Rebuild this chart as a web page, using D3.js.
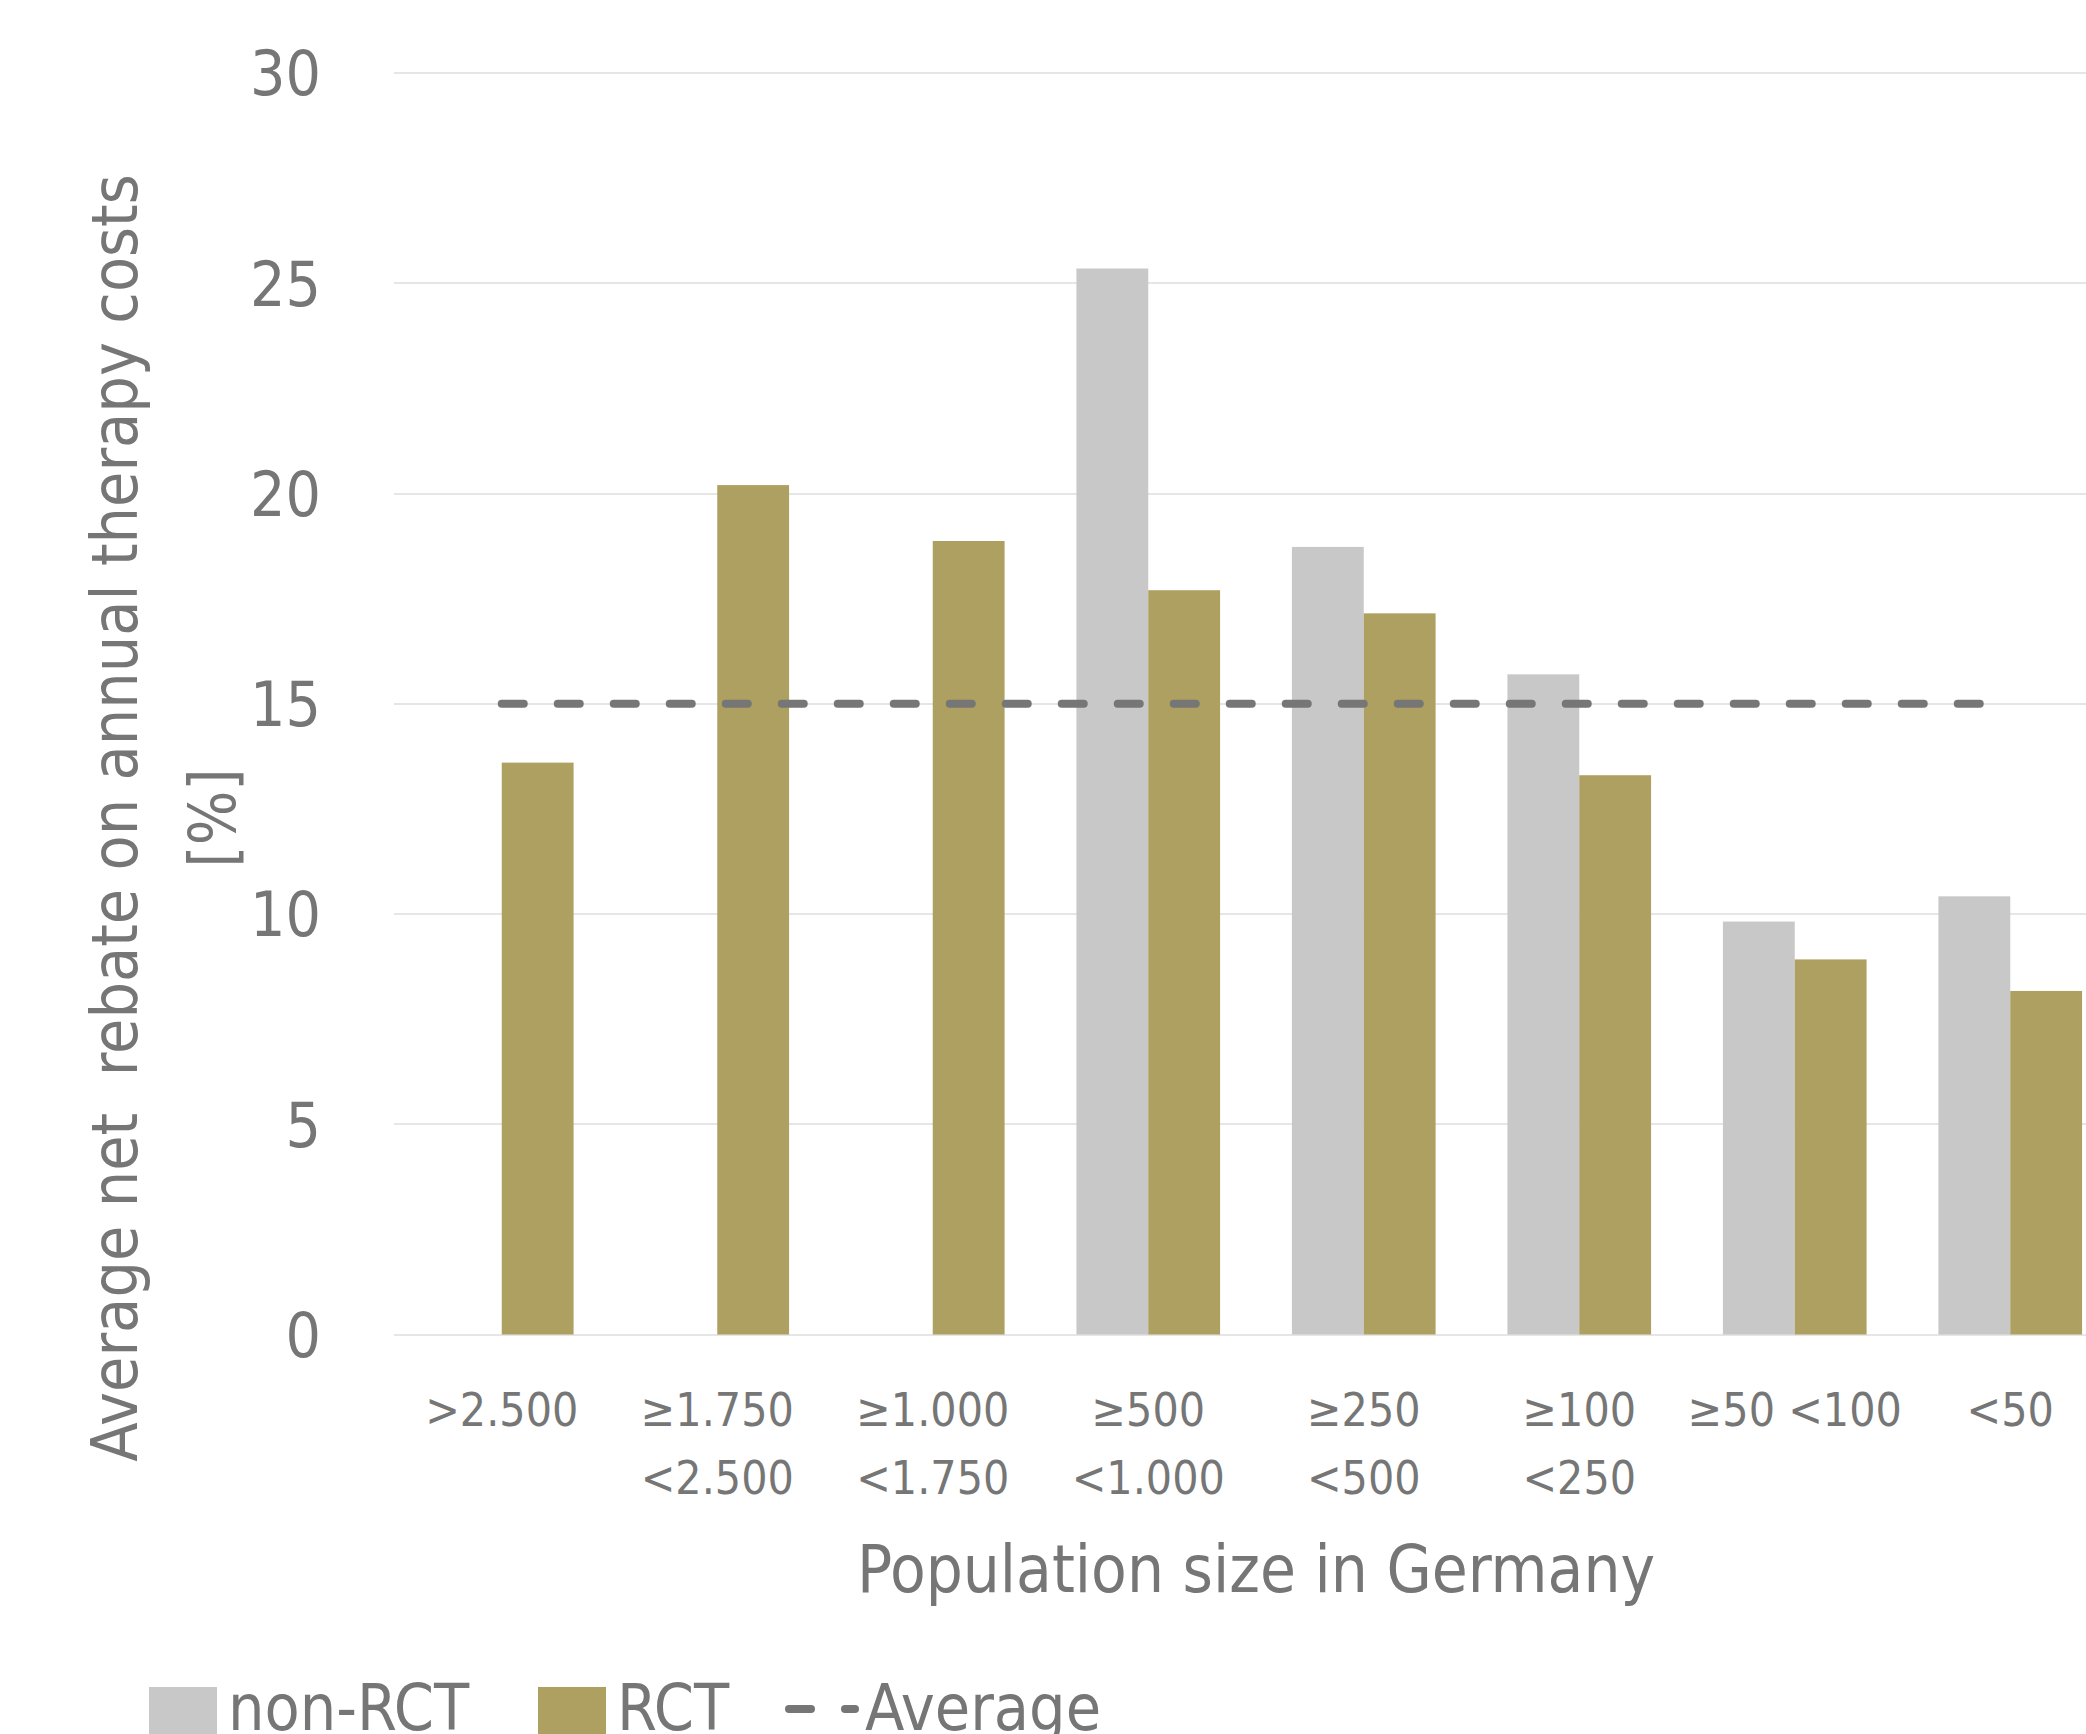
<!DOCTYPE html>
<html>
	<head>
		<title>Net rebate by population size</title>
		<meta charset='UTF-8' />
		<style>
			body {
				margin: 0;
				background: #ffffff;
			}
			svg {
				display: block;
				overflow: hidden;
			}
			.grid line {
				stroke: #e6e6e6;
				stroke-width: 2px;
				shape-rendering: crispEdges;
			}
			.tick-label, .label {
				font-family: 'DejaVu Sans Condensed', 'DejaVu Sans', sans-serif;
				font-stretch: condensed;
				fill: #767676;
				white-space: pre;
			}
		</style>
	</head>

	<body>
	<script src='https://d3js.org/d3.v7.min.js'></script>

	<script>
	'use strict';
	const categories = ['>2.500', '≥1.750 <2.500', '≥1.000 <1.750', '≥500 <1.000', '≥250 <500', '≥100 <250', '≥50 <100', '<50'];
	const categoryLines = [['>2.500'], ['≥1.750', '<2.500'], ['≥1.000', '<1.750'], ['≥500', '<1.000'], ['≥250', '<500'], ['≥100', '<250'], ['≥50 <100'], ['<50']];
	const series = ['non-RCT', 'RCT'];
	const nonRct = [0, 0, 0, 25.35, 18.73, 15.7, 9.82, 10.42];
	const rct = [13.6, 20.2, 18.87, 17.7, 17.15, 13.3, 8.92, 8.17];
	const average = [15, 15, 15, 15, 15, 15, 15, 15];
	const yTicks = [0, 5, 10, 15, 20, 25, 30];
	const colors = {'non-RCT': '#c7c8c7', 'RCT': '#ada060'};

	const width = 2086;
	const height = 1734;
	const plot = {left: 394, right: 2118, top: 73, bottom: 1334.5};

	const svg = d3.select('body').append('svg')
		.attr('width', width)
		.attr('height', height);

	const y = d3.scaleLinear()
		.domain([0, 30])
		.range([plot.bottom, plot.top]);

	const x0 = d3.scaleBand()
		.domain(categories)
		.range([plot.left, plot.right])
		.paddingInner(1 / 3)
		.paddingOuter(1 / 6);

	const x1 = d3.scaleBand()
		.domain(series)
		.range([0, x0.bandwidth()]);

	function center(c) { return x0(c) + x0.bandwidth() / 2; }

	// gridlines
	svg.append('g')
		.attr('class', 'grid')
		.selectAll('line')
		.data(yTicks)
		.enter().append('line')
		.attr('x1', plot.left)
		.attr('x2', width)
		.attr('y1', function(d) { return y(d); })
		.attr('y2', function(d) { return y(d); });

	// y tick labels
	svg.append('g')
		.selectAll('text')
		.data(yTicks)
		.enter().append('text')
		.attr('class', 'tick-label')
		.attr('x', 321)
		.attr('y', function(d) { return y(d); })
		.attr('dy', '0.36em')
		.attr('text-anchor', 'end')
		.style('font-size', '62px')
		.text(function(d) { return d; });

	// bars
	const rows = categories.map(function(c, i) {
		return {cat: c, values: [{key: 'non-RCT', value: nonRct[i]}, {key: 'RCT', value: rct[i]}]};
	});

	svg.append('g')
		.selectAll('g')
		.data(rows)
		.enter().append('g')
		.attr('transform', function(d) { return 'translate(' + x0(d.cat) + ',0)'; })
		.selectAll('rect')
		.data(function(d) { return d.values.filter(function(v) { return v.value > 0; }); })
		.enter().append('rect')
		.attr('x', function(d) { return x1(d.key); })
		.attr('width', x1.bandwidth())
		.attr('y', function(d) { return y(d.value); })
		.attr('height', function(d) { return y(0) - y(d.value); })
		.attr('fill', function(d) { return colors[d.key]; });

	// average line
	const line = d3.line()
		.x(function(d, i) { return center(categories[i]); })
		.y(function(d) { return y(d); });

	svg.append('path')
		.datum(average)
		.attr('d', line)
		.attr('fill', 'none')
		.attr('stroke', '#767676')
		.attr('stroke-width', 8)
		.attr('stroke-linecap', 'round')
		.attr('stroke-dasharray', '22,34');

	// x tick labels
	const xl = svg.append('g')
		.selectAll('text')
		.data(categories)
		.enter().append('text')
		.attr('class', 'tick-label')
		.attr('text-anchor', 'middle')
		.style('font-size', '46px');

	xl.selectAll('tspan')
		.data(function(d, i) { return categoryLines[i].map(function(t) { return {t: t, c: d}; }); })
		.enter().append('tspan')
		.attr('x', function(d) { return center(d.c); })
		.attr('y', function(d, i) { return 1426 + i * 68; })
		.text(function(d) { return d.t; });

	// axis titles
	svg.append('text')
		.attr('class', 'label')
		.attr('x', (plot.left + plot.right) / 2)
		.attr('y', 1592)
		.attr('text-anchor', 'middle')
		.style('font-size', '65px')
		.text('Population size in Germany');

	const yTitle = svg.append('text')
		.attr('class', 'label')
		.attr('transform', 'translate(0,818) rotate(-90)')
		.attr('text-anchor', 'middle')
		.style('font-size', '64px');
	yTitle.append('tspan')
		.attr('x', 0)
		.attr('y', 137)
		.text('Average net  rebate on annual therapy costs');
	yTitle.append('tspan')
		.attr('x', 0)
		.attr('y', 235)
		.text('[%]');

	// legend
	const legend = svg.append('g');
	const legendItems = [{key: 'non-RCT', x: 149}, {key: 'RCT', x: 538}];
	legend.selectAll('rect')
		.data(legendItems)
		.enter().append('rect')
		.attr('x', function(d) { return d.x; })
		.attr('y', 1687)
		.attr('width', 68)
		.attr('height', 68)
		.attr('fill', function(d) { return colors[d.key]; });
	legend.selectAll('text.item')
		.data(legendItems)
		.enter().append('text')
		.attr('class', 'label item')
		.attr('x', function(d) { return d.x + 79; })
		.attr('y', 1730)
		.style('font-size', '64px')
		.text(function(d) { return d.key; });
	legend.append('line')
		.attr('x1', 789)
		.attr('x2', 855)
		.attr('y1', 1709)
		.attr('y2', 1709)
		.attr('stroke', '#767676')
		.attr('stroke-width', 8)
		.attr('stroke-linecap', 'round')
		.attr('stroke-dasharray', '22,34');
	legend.append('text')
		.attr('class', 'label')
		.attr('x', 865)
		.attr('y', 1730)
		.style('font-size', '64px')
		.text('Average');
	</script>
</body>
</html>
